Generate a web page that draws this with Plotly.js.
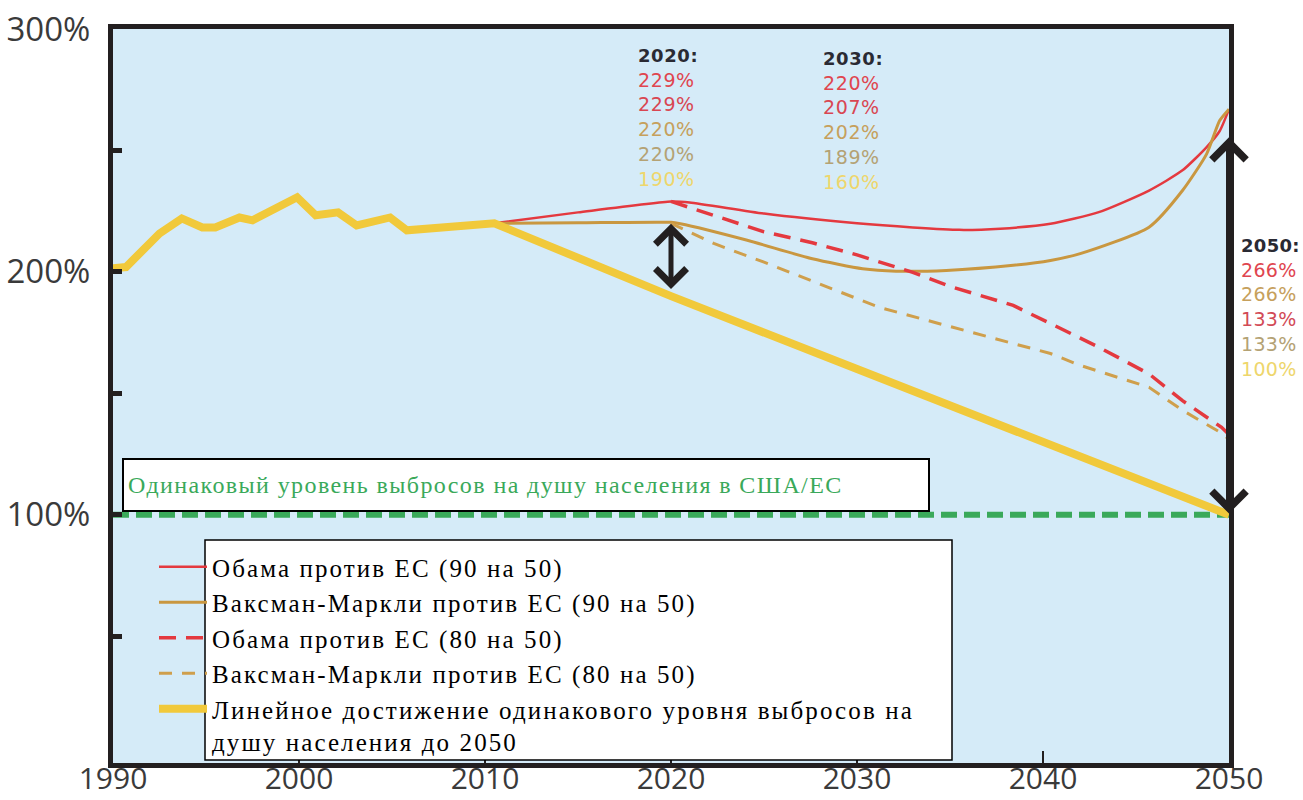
<!DOCTYPE html>
<html>
<head>
<meta charset="utf-8">
<script src="https://cdn.plot.ly/plotly-3.0.1.min.js"></script>
<style>
  html, body { margin: 0; padding: 0; background: #ffffff; }
  #chart { width: 1303px; height: 800px; }
  .legendtext { letter-spacing: 2.1px; }
  #chart g.annotation[data-index="0"] text { letter-spacing: 1.4px; }
  #chart g.annotation[data-index="3"] text,
  #chart g.annotation[data-index="4"] text { letter-spacing: 0.6px; }
  #chart g.annotation[data-index="5"] text { letter-spacing: 0.3px; }
</style>
</head>
<body>
<div id="chart"></div>
<script>
// ---------- data ----------
const histYears  = [1990, 1990.7, 1992.5, 1993.7, 1994.8, 1995.5, 1996.8, 1997.5, 1999.9, 2000.9, 2002.1, 2003.1, 2004.9, 2005.8, 2010.5];
const histValues = [201.5, 202, 215.8, 222, 218.3, 218.3, 222.4, 221.2, 230.7, 223.3, 224.5, 219.1, 222.4, 217.1, 220];

const linearYears  = [2010.5, 2020, 2030, 2040, 2050];
const linearValues = [220, 190, 160, 130, 100];

const obama90Years  = [2010.5, 2015, 2020, 2021, 2025, 2030, 2033, 2035.5, 2037.7, 2040.4, 2043, 2045.7, 2047.5, 2048.8, 2049.5, 2050];
const obama90Values = [220, 224.5, 229, 228.6, 224, 220, 218.3, 217.3, 217.8, 219.8, 224.6, 233.5, 241.8, 251.4, 258, 267];

const waxman90Years  = [2010.5, 2015, 2020, 2020.5, 2024.1, 2027.6, 2030.3, 2032.1, 2034.8, 2038.4, 2040.4, 2042, 2045.7, 2047.5, 2048.8, 2049.5, 2050];
const waxman90Values = [220, 220.2, 220.4, 219.8, 213, 205.4, 201.3, 200.3, 200.6, 202.7, 204.7, 207.5, 218.4, 233.5, 248.6, 262.3, 267];

const obama80Years  = [2020, 2022.3, 2025, 2027.6, 2030, 2033, 2035, 2038.4, 2040.4, 2043, 2045.7, 2047.5, 2049.6, 2050];
const obama80Values = [229, 223.2, 216.5, 212, 207, 199.8, 194, 186.2, 178.8, 169, 158, 147, 136, 133];

const waxman80Years  = [2020, 2022.3, 2025, 2030, 2031.2, 2035, 2037.7, 2040.4, 2042, 2045.7, 2047.5, 2049.6, 2050];
const waxman80Values = [220, 211.7, 204, 189, 185.4, 177.5, 171.8, 166.4, 161.5, 152.5, 143, 133.6, 131];

const parityYears  = [1990, 2050];
const parityValues = [100, 100];

const yearTicks = [1990, 2000, 2010, 2020, 2030, 2040, 2050];
const pctTickVals = [50, 100, 150, 200, 250, 300];
const pctTickText = ['', '100%', '', '200%', '', '300%'];

const seriesNames = [
  'Обама против ЕС (90 на 50)',
  'Ваксман-Маркли против ЕС (90 на 50)',
  'Обама против ЕС (80 на 50)',
  'Ваксман-Маркли против ЕС (80 на 50)',
  'Линейное достижение одинакового уровня выбросов на<br>душу населения до 2050'
];
const parityLabel = 'Одинаковый уровень выбросов на душу населения в США/ЕС';

const block2020 = {head: '2020:', vals: ['229%', '229%', '220%', '220%', '190%']};
const block2030 = {head: '2030:', vals: ['220%', '207%', '202%', '189%', '160%']};
const block2050 = {head: '2050:', vals: ['266%', '266%', '133%', '133%', '100%']};
const arrow2020 = {year: 2020, from: 220.4, to: 193};
const arrow2050 = {year: 2050, from: 256, to: 100.5};

// ---------- styling ----------
const RED = '#e4393f', TAN = '#c99740', TAN_D = '#cf9f4c', YEL = '#f1c93b', GREEN = '#3aa95a', INK = '#231f20';
const valColors2020 = ['#e0454f', '#d94652', '#c6a05c', '#b4a274', '#eed66c'];
const valColors2030 = ['#e0454f', '#d94652', '#c6a05c', '#b4a274', '#eed66c'];
const valColors2050 = ['#e0454f', '#c6a05c', '#d24a56', '#b4a274', '#eed66c'];

// pixel helpers for layout placement (plot area: x 113..1229, y 29..763)
const L = 113, R = 1229, T = 29, B = 763;
const px = x => (x - L) / (R - L);
const py = y => (B - y) / (B - T);

function block(b, colors) {
  let s = '<b><span style="color:#2a2a33;font-size:18px">' + b.head + '</span></b>';
  b.vals.forEach((v, i) => { s += '<br><span style="color:' + colors[i] + '">' + v + '</span>'; });
  return s;
}

const traces = [
  {x: parityYears, y: parityValues, mode: 'lines', showlegend: false, hoverinfo: 'skip',
   line: {color: GREEN, width: 6, dash: '16px,7px'}},
  {x: obama90Years, y: obama90Values, name: seriesNames[0], mode: 'lines',
   line: {color: RED, width: 2.5, shape: 'spline', smoothing: 0.6}},
  {x: waxman90Years, y: waxman90Values, name: seriesNames[1], mode: 'lines',
   line: {color: TAN, width: 3, shape: 'spline', smoothing: 0.6}},
  {x: obama80Years, y: obama80Values, name: seriesNames[2], mode: 'lines',
   line: {color: RED, width: 3.5, dash: '17px,10px'}},
  {x: waxman80Years, y: waxman80Values, name: seriesNames[3], mode: 'lines',
   line: {color: TAN_D, width: 3, dash: '13px,10px'}},
  {x: histYears.concat(linearYears.slice(1)), y: histValues.concat(linearValues.slice(1)),
   name: seriesNames[4], mode: 'lines', line: {color: YEL, width: 8}}
];

const serif = 'Liberation Serif, Times New Roman, serif';
const sans = 'Open Sans, sans-serif';

const annotations = [
  {xref: 'paper', yref: 'paper', x: px(122), y: py(485), xanchor: 'left', yanchor: 'middle',
   text: parityLabel, showarrow: false, width: 796, height: 42, align: 'left',
   bgcolor: '#ffffff', bordercolor: '#000000', borderwidth: 2, borderpad: 4,
   font: {family: serif, size: 24, color: GREEN}},
  {xref: 'x', yref: 'y', axref: 'x', ayref: 'y', x: arrow2020.year, y: arrow2020.to,
   ax: arrow2020.year, ay: arrow2020.from, text: '', showarrow: true,
   arrowhead: 4, startarrowhead: 4, arrowside: 'end+start', arrowwidth: 5,
   arrowsize: 1.2, startarrowsize: 1.2, arrowcolor: INK, standoff: 0, startstandoff: 0},
  {xref: 'x', yref: 'y', axref: 'x', ayref: 'y', x: arrow2050.year, y: arrow2050.to,
   ax: arrow2050.year, ay: arrow2050.from, text: '', showarrow: true,
   arrowhead: 4, startarrowhead: 4, arrowside: 'end+start', arrowwidth: 6,
   arrowsize: 1.1, startarrowsize: 1.1, arrowcolor: INK, standoff: 0, startstandoff: 0},
  {xref: 'paper', yref: 'paper', x: px(636), y: py(117), xanchor: 'left', yanchor: 'middle',
   text: block(block2020, valColors2020), showarrow: false, align: 'left',
   font: {family: 'DejaVu Sans, sans-serif', size: 19}},
  {xref: 'paper', yref: 'paper', x: px(821), y: py(120), xanchor: 'left', yanchor: 'middle',
   text: block(block2030, valColors2030), showarrow: false, align: 'left',
   font: {family: 'DejaVu Sans, sans-serif', size: 19}},
  {xref: 'paper', yref: 'paper', x: px(1239), y: py(307), xanchor: 'left', yanchor: 'middle',
   text: block(block2050, valColors2050), showarrow: false, align: 'left',
   font: {family: 'DejaVu Sans, sans-serif', size: 19}}
];

const layout = {
  width: 1303, height: 800,
  margin: {l: L, r: 1303 - R, t: T, b: 800 - B, pad: 0},
  paper_bgcolor: '#ffffff',
  plot_bgcolor: '#d5ebf8',
  showlegend: true,
  legend: {x: px(154), y: py(544), xanchor: 'left', yanchor: 'top',
           bgcolor: 'rgba(0,0,0,0)', borderwidth: 0, valign: 'top', itemwidth: 48,
           font: {family: serif, size: 25, color: '#000000'}},
  xaxis: {range: [1990, 2050], tickvals: yearTicks, ticktext: yearTicks.map(String),
          showline: true, mirror: true, linewidth: 5, linecolor: INK,
          ticks: 'inside', ticklen: 12, tickwidth: 2, tickcolor: INK,
          showgrid: false, zeroline: false, automargin: false, ticklabelstandoff: -15,
          tickfont: {family: sans, size: 30, color: '#3a3a3a'}},
  yaxis: {range: [-2.2, 300], tickvals: pctTickVals, ticktext: pctTickText,
          showline: true, mirror: true, linewidth: 5, linecolor: INK,
          ticks: 'inside', ticklen: 9, tickwidth: 5, tickcolor: INK,
          showgrid: false, zeroline: false, automargin: false, ticklabelstandoff: 11,
          tickfont: {family: sans, size: 33, color: '#3a3a3a'}},
  shapes: [
    {type: 'rect', xref: 'paper', yref: 'paper', x0: px(205), x1: px(952), y0: py(760), y1: py(540),
     fillcolor: '#ffffff', line: {color: '#000000', width: 1.5}, layer: 'above'}
  ],
  annotations: annotations
};

Plotly.newPlot('chart', traces, layout, {displayModeBar: false, staticPlot: true});
</script>
</body>
</html>
